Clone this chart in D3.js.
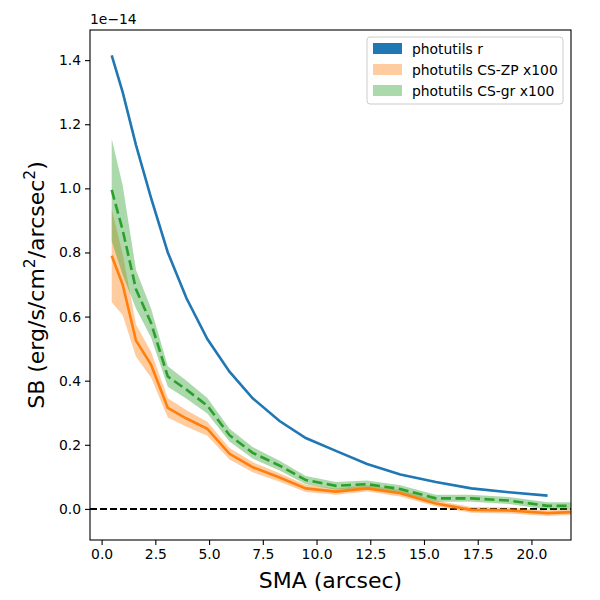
<!DOCTYPE html>
<html lang="en">
<head>
  <meta charset="UTF-8">
  <title>SB profile</title>
  <script src="https://d3js.org/d3.v7.min.js"></script>
  <style>
    body { margin: 0; font-family: "DejaVu Sans", sans-serif; background: white; }
    svg text { font-family: "DejaVu Sans", sans-serif; fill: #000; }
  </style>
</head>
<body>
  <svg id="chart" width="600" height="600"></svg>

  <script>
    // values in units of 1e-14 erg/s/cm^2/arcsec^2
    const smaR = [0.47, 0.98, 1.6, 2.3, 3.08, 3.95, 4.92, 5.95, 7.03, 8.28, 9.5, 10.9, 12.35, 13.9, 15.55, 17.2, 18.95, 20.75];
    const sbR  = [1.415, 1.30, 1.135, 0.97, 0.80, 0.657, 0.53, 0.428, 0.345, 0.274, 0.221, 0.181, 0.140, 0.107, 0.084, 0.064, 0.052, 0.0415];

    const smaCS = [0.47, 0.98, 1.6, 2.3, 3.08, 3.95, 4.92, 5.95, 7.03, 8.28, 9.5, 10.9, 12.35, 13.9, 15.55, 17.2, 18.95, 20.75, 22.6];
    const sbZP  = [0.79, 0.70, 0.525, 0.45, 0.315, 0.282, 0.25, 0.172, 0.130, 0.098, 0.064, 0.054, 0.064, 0.049, 0.017, -0.003, -0.005, -0.013, -0.008];
    const errZP = [0.145, 0.095, 0.05, 0.04, 0.03, 0.026, 0.022, 0.018, 0.016, 0.013, 0.011, 0.010, 0.010, 0.010, 0.009, 0.009, 0.009, 0.009, 0.009];
    const sbGR  = [0.995, 0.87, 0.685, 0.58, 0.413, 0.372, 0.322, 0.23, 0.175, 0.135, 0.09, 0.072, 0.077, 0.062, 0.033, 0.033, 0.026, 0.0095, 0.0095];
    const errGR = [0.16, 0.14, 0.06, 0.045, 0.032, 0.028, 0.024, 0.02, 0.018, 0.015, 0.013, 0.012, 0.012, 0.012, 0.011, 0.011, 0.011, 0.011, 0.011];

    const xTicks = [0, 2.5, 5, 7.5, 10, 12.5, 15, 17.5, 20];
    const yTicks = [0, 0.2, 0.4, 0.6, 0.8, 1.0, 1.2, 1.4];
    const legendLabels = ["photutils r", "photutils CS-ZP x100", "photutils CS-gr x100"];

    const svg = d3.select("#chart");
    const margin = { top: 30, right: 29, bottom: 60, left: 90 };
    const width = 600 - margin.left - margin.right;
    const height = 600 - margin.top - margin.bottom;
    const g = svg.append("g").attr("transform", `translate(${margin.left},${margin.top})`);

    const x = d3.scaleLinear().domain([-0.54, 21.84]).range([0, width]);
    const y = d3.scaleLinear().domain([-0.097, 1.494]).range([height, 0]);

    g.append("clipPath").attr("id", "clip")
      .append("rect").attr("width", width).attr("height", height);

    const plot = g.append("g").attr("clip-path", "url(#clip)");

    const rData = smaR.map((s, i) => ({ s, v: sbR[i] }));
    const zpData = smaCS.map((s, i) => ({ s, v: sbZP[i], e: errZP[i] }));
    const grData = smaCS.map((s, i) => ({ s, v: sbGR[i], e: errGR[i] }));

    const line = d3.line().x(d => x(d.s)).y(d => y(d.v));
    const band = d3.area().x(d => x(d.s)).y0(d => y(d.v - d.e)).y1(d => y(d.v + d.e));

    // zero line
    plot.append("line")
      .attr("x1", 0).attr("x2", width)
      .attr("y1", y(0)).attr("y2", y(0))
      .attr("stroke", "#000").attr("stroke-width", 2)
      .attr("stroke-dasharray", "7,3");

    plot.append("path").datum(zpData)
      .attr("d", band).attr("fill", "#ff7f0e").attr("fill-opacity", 0.4);
    plot.append("path").datum(grData)
      .attr("d", band).attr("fill", "#2ca02c").attr("fill-opacity", 0.4);

    plot.append("path").datum(rData)
      .attr("d", line).attr("fill", "none")
      .attr("stroke", "#1f77b4").attr("stroke-width", 2.6);
    plot.append("path").datum(zpData)
      .attr("d", line).attr("fill", "none")
      .attr("stroke", "#ff7f0e").attr("stroke-width", 2.6);
    plot.append("path").datum(grData)
      .attr("d", line).attr("fill", "none")
      .attr("stroke", "#2ca02c").attr("stroke-width", 2.6)
      .attr("stroke-dasharray", "10,4.5");

    // axes
    const xAxis = g.append("g")
      .attr("transform", `translate(0,${height})`)
      .call(d3.axisBottom(x).tickValues(xTicks).tickFormat(d3.format(".1f")).tickSize(5).tickPadding(4));
    const yAxis = g.append("g")
      .call(d3.axisLeft(y).tickValues(yTicks).tickFormat(d3.format(".1f")).tickSize(5).tickPadding(4));
    [xAxis, yAxis].forEach(a => {
      a.select(".domain").remove();
      a.selectAll(".tick line").attr("stroke", "#000").attr("stroke-width", 1.1);
      a.selectAll(".tick text").style("font-size", "13.9px").attr("fill", "#000");
    });

    g.append("rect")
      .attr("width", width).attr("height", height)
      .attr("fill", "none").attr("stroke", "#000").attr("stroke-width", 1.1);

    g.append("text")
      .attr("x", 0).attr("y", -6)
      .style("font-size", "13.9px")
      .text("1e\u221214");

    // axis labels
    svg.append("text")
      .attr("x", margin.left + width / 2).attr("y", 588)
      .attr("text-anchor", "middle")
      .style("font-size", "22px")
      .text("SMA (arcsec)");

    const yl = svg.append("text")
      .attr("transform", `translate(44,${margin.top + height / 2}) rotate(-90)`)
      .attr("text-anchor", "middle")
      .style("font-size", "22px");
    yl.append("tspan").text("SB (erg/s/cm");
    yl.append("tspan").attr("dy", -9).style("font-size", "15.5px").text("2");
    yl.append("tspan").attr("dy", 9).text("/arcsec");
    yl.append("tspan").attr("dy", -9).style("font-size", "15.5px").text("2");
    yl.append("tspan").attr("dy", 9).text(")");

    // legend
    const legendColors = [
      { c: "#1f77b4", o: 1 },
      { c: "#ff7f0e", o: 0.4 },
      { c: "#2ca02c", o: 0.4 }
    ];
    const lg = svg.append("g").attr("transform", "translate(367,37)");
    lg.append("rect")
      .attr("width", 196).attr("height", 67).attr("rx", 3)
      .attr("fill", "white").attr("fill-opacity", 0.8)
      .attr("stroke", "#ccc").attr("stroke-width", 1);
    legendLabels.forEach((lab, i) => {
      const row = lg.append("g").attr("transform", `translate(6,${12 + i * 21})`);
      row.append("rect")
        .attr("y", -6).attr("width", 29).attr("height", 11)
        .attr("fill", legendColors[i].c).attr("fill-opacity", legendColors[i].o);
      row.append("text")
        .attr("x", 39).attr("y", 5)
        .style("font-size", "13.9px")
        .text(lab);
    });
  </script>
</body>
</html>
